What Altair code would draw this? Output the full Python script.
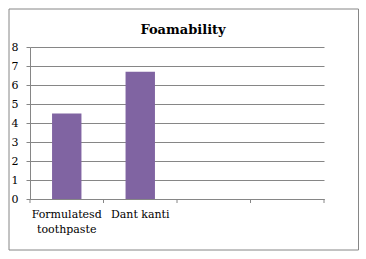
import altair as alt
import pandas as pd

categories = ["Formulatesd toothpaste", "Dant kanti", "blank3", "blank4"]
values = [4.5, 6.7, None, None]
y_ticks = [0, 1, 2, 3, 4, 5, 6, 7, 8]

df = pd.DataFrame({"cat": categories[:2], "val": values[:2]})
tick_df = pd.DataFrame({"cat": categories})
end_df = pd.DataFrame({"cat": categories[-1:]})

label_expr = ("datum.value == 'Formulatesd toothpaste' ? ['Formulatesd', 'toothpaste'] : "
              "(indexof(datum.value, 'blank') == 0 ? '' : datum.value)")

grey = "#868686"
font = "DejaVu Serif"

x_scale = alt.Scale(domain=categories, paddingInner=0, paddingOuter=0)

bars = alt.Chart(df).mark_bar(color="#8064A2", width=alt.RelativeBandSize(0.4)).encode(
    x=alt.X("cat:N", sort=categories, scale=x_scale,
            axis=alt.Axis(title=None, labelAngle=0, labelExpr=label_expr,
                          grid=False, domainColor=grey, ticks=False,
                          labelPadding=9, labelFont=font, labelFontSize=11,
                          labelColor="black", labelLineHeight=15)),
    y=alt.Y("val:Q", scale=alt.Scale(domain=[0, 8], nice=False),
            axis=alt.Axis(title=None, values=y_ticks, grid=True, gridColor=grey,
                          domainColor=grey, tickColor=grey, tickSize=4, labelPadding=8,
                          labelFont=font, labelFontSize=11, labelColor="black")),
)

ticks_start = alt.Chart(tick_df).mark_rule(color=grey).encode(
    x=alt.X("cat:N", sort=categories, scale=x_scale, bandPosition=0),
    y=alt.value(152), y2=alt.value(156),
)
ticks_end = alt.Chart(end_df).mark_rule(color=grey).encode(
    x=alt.X("cat:N", sort=categories, scale=x_scale, bandPosition=1),
    y=alt.value(152), y2=alt.value(156),
)

border = alt.Chart(pd.DataFrame({"b": [0]})).mark_rect(
    fillOpacity=0, stroke=grey, strokeWidth=1, clip=False
).encode(
    x=alt.value(-21), x2=alt.value(328.5), y=alt.value(-38), y2=alt.value(203)
)

chart = alt.layer(bars, ticks_start, ticks_end, border).properties(
    width=294, height=152,
    background="white",
    title=alt.TitleParams("Foamability", font=font, fontSize=13, fontWeight="bold",
                          color="black", offset=-28, dx=6),
    autosize=alt.AutoSizeParams(type="none"),
    padding={"left": 30, "top": 47, "right": 42, "bottom": 60},
).configure_view(stroke=None)

chart.save("out.html", embed_options={"renderer": "svg", "actions": False})
